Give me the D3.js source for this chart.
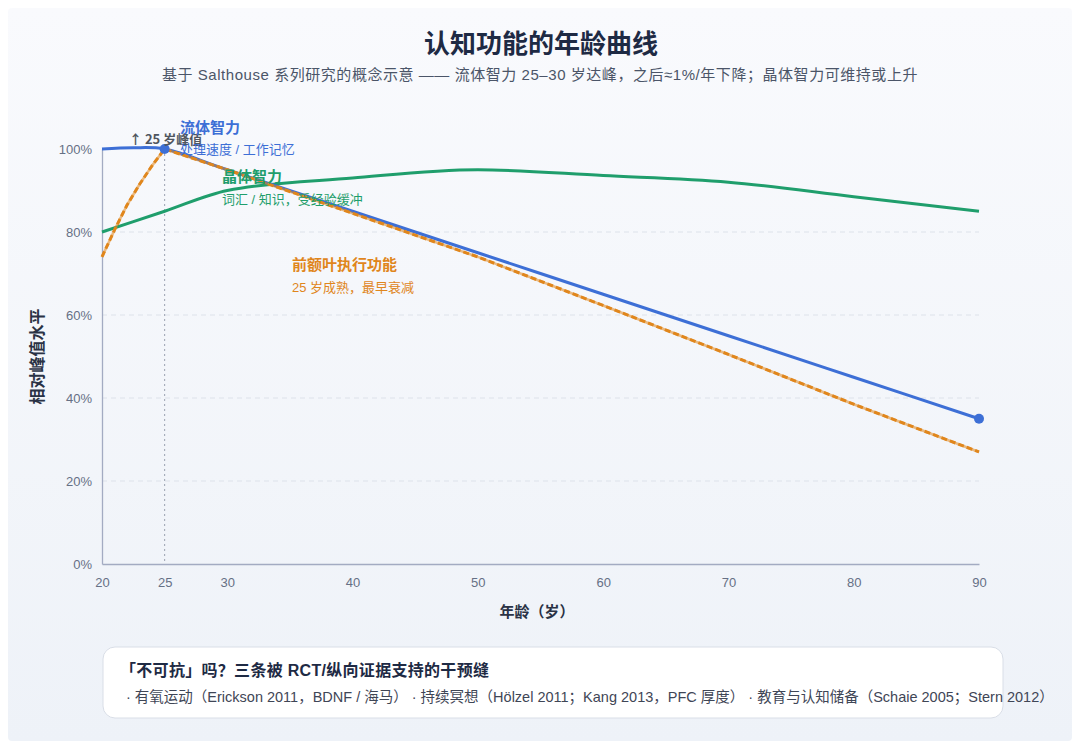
<!DOCTYPE html>
<html><head><meta charset="utf-8">
<script src="https://cdn.jsdelivr.net/npm/d3@7"></script>
<style>
html,body{margin:0;padding:0;background:#fff;}
body{width:1080px;height:749px;overflow:hidden;}
svg text{font-family:"Liberation Sans","Noto Sans CJK SC",sans-serif;}
</style></head><body>
<svg id="c" width="1080" height="749"></svg>
<script>
const title = "认知功能的年龄曲线";
const subtitle = "基于 Salthouse 系列研究的概念示意 —— 流体智力 25–30 岁达峰，之后≈1%/年下降；晶体智力可维持或上升";
const xTicks = [20,25,30,40,50,60,70,80,90];
const yTicks = [0,20,40,60,80,100];
const fluidAges = [20,22.5,25,30,40,50,60,70,80,90];
const fluidVals = [100,100.3,100,95,85,75,65,55,45,35];
const crystAges = [20,25,30,40,50,60,70,80,90];
const crystVals = [80,85,90,93,95,93.6,92,88.5,85];
const pfcAges = [20,21,22,23,24,25,30,40,50,60,70,80,90];
const pfcVals = [74,80.5,86.5,91.5,96,100,95,84.5,74,62.3,50.5,38.5,27];
const boxTitle = "「不可抗」吗？三条被 RCT/纵向证据支持的干预缝";
const boxItems = ["· 有氧运动（Erickson 2011，BDNF / 海马）","· 持续冥想（Hölzel 2011；Kang 2013，PFC 厚度）","· 教育与认知储备（Schaie 2005；Stern 2012）"];

const svg = d3.select("#c");
const defs = svg.append("defs");
const g1 = defs.append("linearGradient").attr("id","bg").attr("x1",0).attr("y1",0).attr("x2",0).attr("y2",1);
g1.append("stop").attr("offset","0%").attr("stop-color","#f9fafd");
g1.append("stop").attr("offset","100%").attr("stop-color","#eef2f8");
svg.append("rect").attr("x",8).attr("y",8).attr("width",1064).attr("height",733).attr("rx",4).attr("fill","url(#bg)");

const blue="#3d6fd6", green="#1f9e6c", orange="#e0861c";
const x = d3.scaleLinear().domain([20,90]).range([102,979]);
const y = d3.scaleLinear().domain([0,100]).range([564,149]);

svg.append("text").attr("x",541).attr("y",53).attr("text-anchor","middle")
  .attr("font-size",26).attr("font-weight",700).attr("fill","#1e2a44").text(title);
svg.append("text").attr("x",540).attr("y",80).attr("text-anchor","middle")
  .attr("font-size",15).attr("letter-spacing",0.55).attr("fill","#4b5568").text(subtitle);

// grid
svg.append("g").selectAll("line").data(yTicks.filter(d=>d>0&&d<100)).join("line")
  .attr("x1",x(20)).attr("x2",x(90)).attr("y1",d=>y(d)).attr("y2",d=>y(d))
  .attr("stroke","#dde2ea").attr("stroke-dasharray","5,4");

// axes
const xa = svg.append("g").attr("transform",`translate(0,${y(0)})`)
  .call(d3.axisBottom(x).tickValues(xTicks).tickSize(0).tickPadding(14));
const ya = svg.append("g").attr("transform",`translate(${x(20)},0)`)
  .call(d3.axisLeft(y).tickValues(yTicks).tickSize(0).tickPadding(10).tickFormat(d=>d+"%"));
[xa,ya].forEach(a=>{a.select(".domain").attr("stroke","#a3abc2").attr("stroke-width",1.3);
  a.selectAll("text").attr("fill","#667085").attr("font-size",13);});

// peak line
svg.append("line").attr("x1",x(25)).attr("x2",x(25)).attr("y1",y(100)).attr("y2",y(0))
  .attr("stroke","#9aa1b0").attr("stroke-dasharray","2,3");

const line = d3.line().x(d=>x(d[0])).y(d=>y(d[1])).curve(d3.curveMonotoneX);
const lineC = d3.line().x(d=>x(d[0])).y(d=>y(d[1])).curve(d3.curveCatmullRom);
const lineL = d3.line().x(d=>x(d[0])).y(d=>y(d[1]));
const fluid = fluidAges.map((a,i)=>[a,fluidVals[i]]);
const cryst = crystAges.map((a,i)=>[a,crystVals[i]]);
const pfc = pfcAges.map((a,i)=>[a,pfcVals[i]]);

svg.append("path").attr("d",line(cryst)).attr("fill","none").attr("stroke",green).attr("stroke-width",3);
svg.append("path").attr("d",lineC(fluid)).attr("fill","none").attr("stroke",blue).attr("stroke-width",3);
svg.append("path").attr("d",lineL(pfc)).attr("fill","none").attr("stroke",orange).attr("stroke-width",2.6).attr("stroke-opacity",0.55).attr("stroke-linejoin","round");
svg.append("path").attr("d",lineL(pfc)).attr("fill","none").attr("stroke",orange).attr("stroke-width",3).attr("stroke-dasharray","6,3").attr("stroke-linejoin","round");

svg.selectAll("circle.pt").data([fluid[2],fluid[fluid.length-1]]).join("circle")
  .attr("cx",d=>x(d[0])).attr("cy",d=>y(d[1])).attr("r",5).attr("fill",blue);

svg.append("text").attr("x",129).attr("y",144).attr("font-size",13).attr("font-weight",600)
  .style("font-family","'Noto Sans CJK SC',sans-serif")
  .attr("fill","#50565f").text("↑ 25 岁峰值");

const lab = (t,xx,yy,c,s,w)=>svg.append("text").attr("x",xx).attr("y",yy).attr("font-size",s)
  .attr("font-weight",w).attr("fill",c).text(t);
lab("流体智力",180,133,blue,15,700);
lab("处理速度 / 工作记忆",180,154,blue,13,400);
lab("晶体智力",222,182,green,15,700);
lab("词汇 / 知识，受经验缓冲",222,204,green,13,400);
lab("前额叶执行功能",292,270,orange,15,700);
lab("25 岁成熟，最早衰减",292,292,orange,13,400);

svg.append("text").attr("transform",`translate(43,${(y(0)+y(100))/2}) rotate(-90)`)
  .attr("text-anchor","middle").attr("font-size",16).attr("font-weight",700).attr("fill","#2a3245").text("相对峰值水平");
svg.append("text").attr("x",537).attr("y",617).attr("text-anchor","middle")
  .attr("font-size",15).attr("font-weight",700).attr("fill","#2a3245").text("年龄（岁）");

// box
svg.append("rect").attr("x",103).attr("y",647).attr("width",900).attr("height",71).attr("rx",12)
  .attr("fill","#ffffff").attr("stroke","#d9dee7");
svg.append("text").attr("x",120).attr("y",676).attr("font-size",16).attr("letter-spacing",0.3).attr("font-weight",700)
  .attr("fill","#1e2a44").text(boxTitle);
svg.append("text").attr("x",126).attr("y",702).attr("font-size",14.5).attr("fill","#3f4656")
  .text(boxItems.join("  "));
</script></body></html>
